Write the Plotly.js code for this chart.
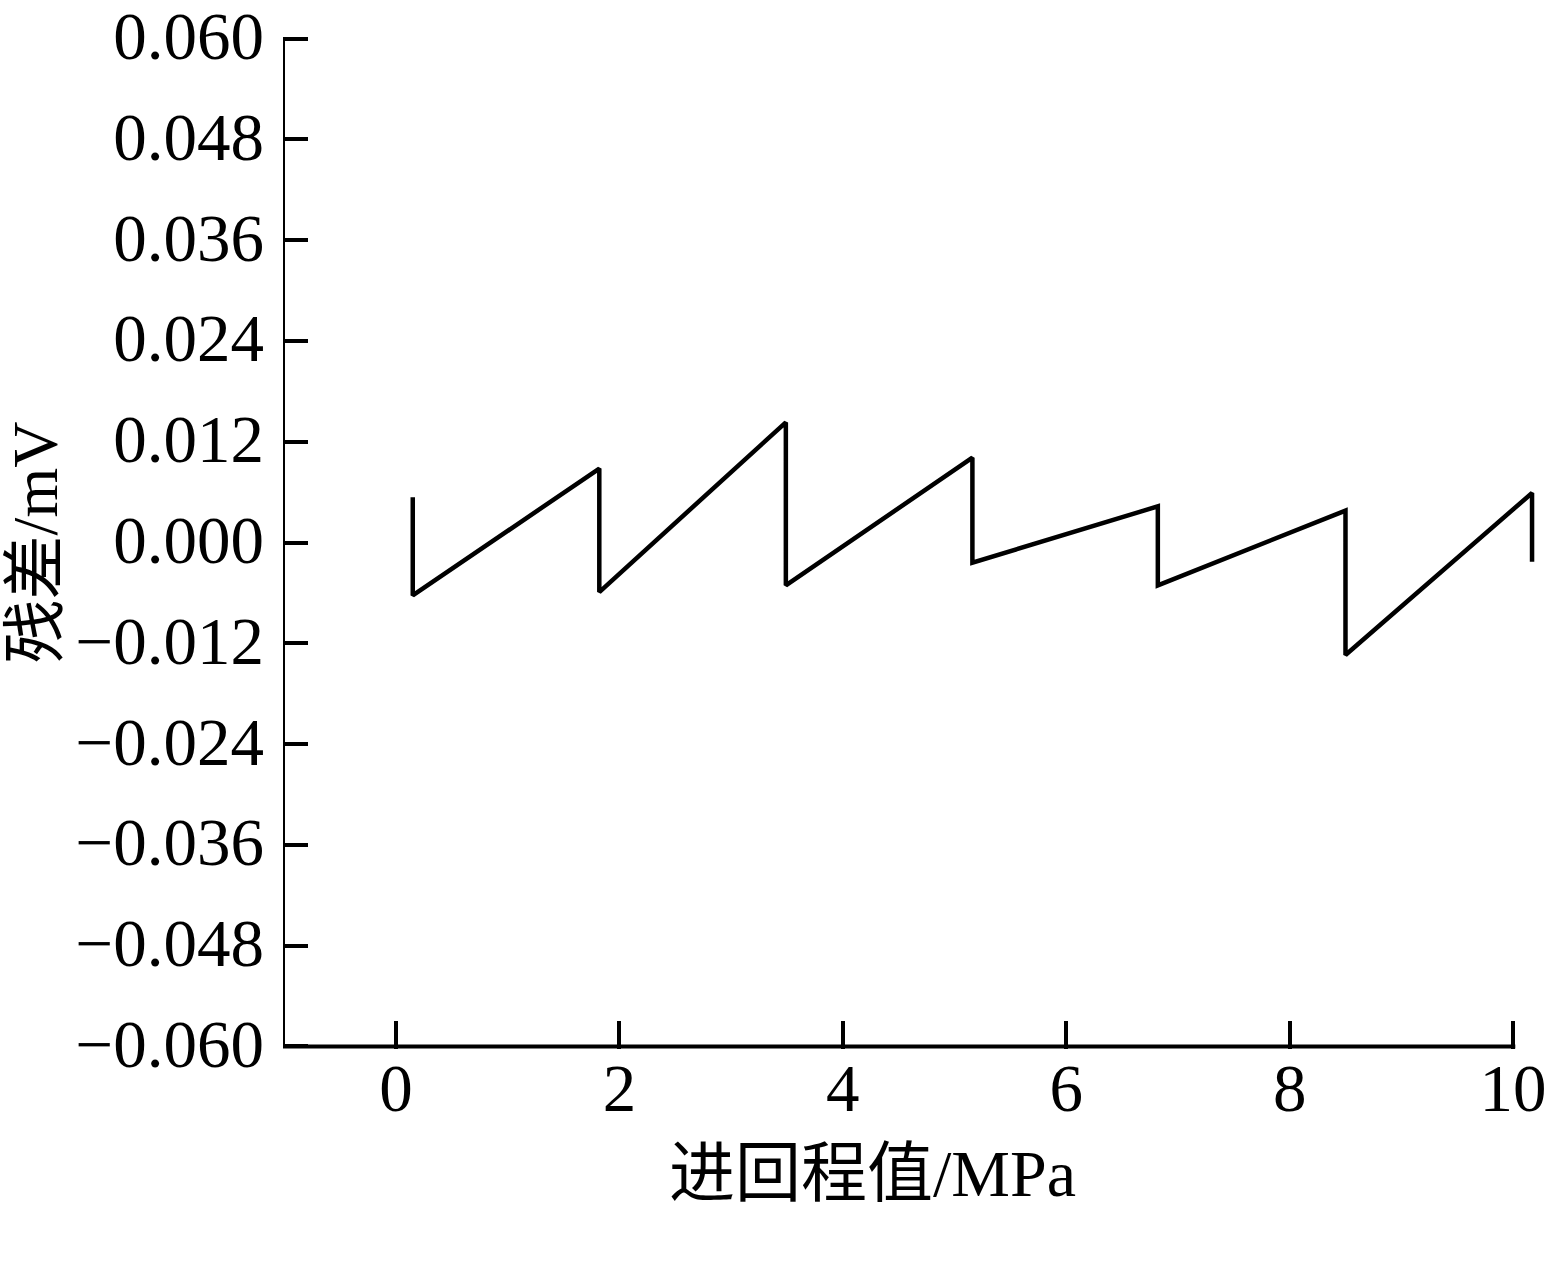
<!DOCTYPE html>
<html>
<head>
<meta charset="utf-8">
<script src="https://cdn.plot.ly/plotly-3.0.1.min.js"></script>
<style>
  html, body { margin: 0; padding: 0; background: #ffffff; }
  #chart { width: 1555px; height: 1269px; }
</style>
</head>
<body>
<div id="chart"></div>
<script>
// Data (x: 进回程值 / MPa, y: 残差 / mV)
const pressureMPa = [0.15, 0.15, 1.82, 1.82, 3.49, 3.49, 5.16, 5.16, 6.82, 6.82, 8.50, 8.50, 10.17, 10.17];
const residualMV  = [0.0054, -0.0063, 0.0088, -0.0059, 0.0143, -0.0051, 0.0101, -0.0024, 0.0043, -0.0051, 0.0038, -0.0134, 0.0059, -0.0023];

const yTickVals = [-0.060, -0.048, -0.036, -0.024, -0.012, 0.000, 0.012, 0.024, 0.036, 0.048, 0.060];
const xTickVals = [0, 2, 4, 6, 8, 10];

const xTitle = '进回程值/MPa';
const yTitle = '残差/mV';

const xRange = [-1.0116, 10.286];
const yRange = [-0.0603, 0.0603];
const xAxisEnd = 10.02;
const yAxisEnds = [-0.060, 0.060];

const serif = '"Liberation Serif", "Times New Roman", "Noto Sans CJK SC", serif';

const trace = {
  x: pressureMPa,
  y: residualMV,
  type: 'scatter',
  mode: 'lines',
  line: { color: '#000000', width: 4.5 },
  hoverinfo: 'skip',
  showlegend: false
};

const layout = {
  width: 1555,
  height: 1269,
  paper_bgcolor: '#ffffff',
  plot_bgcolor: '#ffffff',
  margin: { l: 283, r: 10, t: 36, b: 220 },
  font: { family: serif, color: '#000000', size: 67 },
  showlegend: false,
  xaxis: {
    range: xRange,
    tickvals: xTickVals,
    ticktext: xTickVals.map(String),
    ticks: 'inside',
    ticklen: 28,
    tickwidth: 4,
    tickcolor: '#000000',
    showline: false,
    showgrid: false,
    zeroline: false,
    tickfont: { family: serif, size: 67, color: '#000000' },
    ticklabelstandoff: -6,
    ticklabeloverflow: 'allow'
  },
  yaxis: {
    range: yRange,
    tickvals: yTickVals,
    tickformat: '.3f',
    ticks: 'inside',
    ticklen: 25,
    tickwidth: 4,
    tickcolor: '#000000',
    showline: false,
    showgrid: false,
    zeroline: false,
    tickfont: { family: serif, size: 67, color: '#000000' },
    ticklabelstandoff: 18,
    ticklabelshift: -3,
    ticklabeloverflow: 'allow',
    title: { text: yTitle, font: { family: serif, size: 64, color: '#000000' }, standoff: 16 }
  },
  annotations: [
    {
      text: xTitle,
      xref: 'paper', yref: 'paper',
      x: 0.4675, y: -0.1229,
      xanchor: 'center', yanchor: 'middle',
      showarrow: false,
      font: { family: serif, size: 66, color: '#000000' }
    }
  ],
  shapes: [
    {
      type: 'line',
      xref: 'x', yref: 'y',
      x0: xRange[0], x1: xAxisEnd, y0: yAxisEnds[0], y1: yAxisEnds[0],
      line: { color: '#000000', width: 4 },
      layer: 'above'
    },
    {
      type: 'line',
      xref: 'x', yref: 'y',
      x0: xRange[0], x1: xRange[0], y0: yAxisEnds[0], y1: yAxisEnds[1],
      line: { color: '#000000', width: 4 },
      layer: 'above'
    }
  ]
};

Plotly.newPlot('chart', [trace], layout, { displayModeBar: false, staticPlot: true });
</script>
</body>
</html>
